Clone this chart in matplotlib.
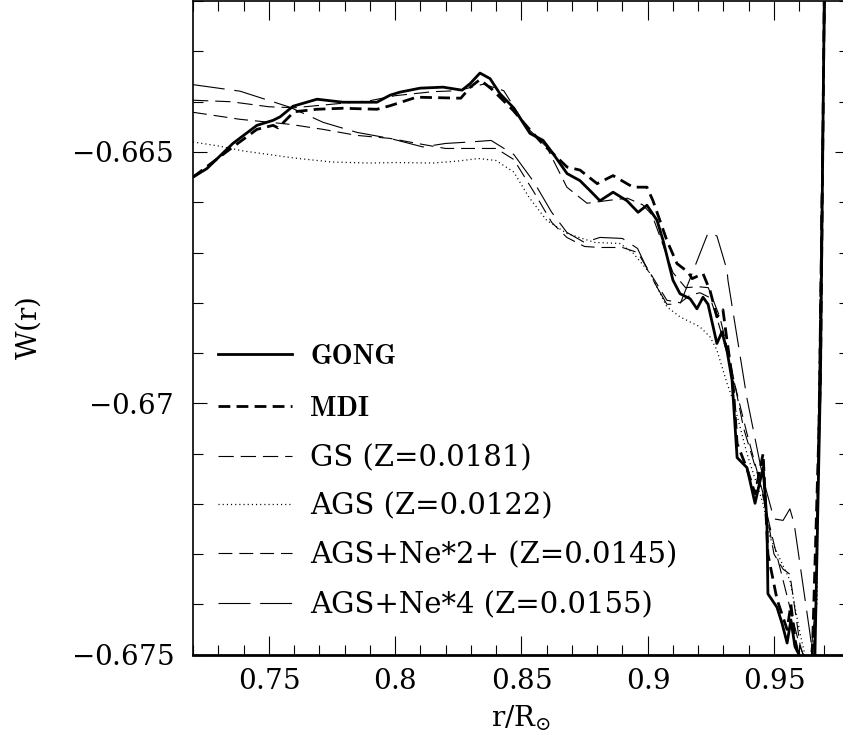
import numpy as np
import matplotlib
matplotlib.use('Agg')
import matplotlib.pyplot as plt
from matplotlib.lines import Line2D
from matplotlib.ticker import MultipleLocator, FuncFormatter

plt.rcParams['mathtext.fontset'] = 'dejavuserif'
plt.rcParams['font.family'] = 'DejaVu Serif'
plt.rcParams['lines.scale_dashes'] = False

# helioseismic inversions
gong_r = [0.720, 0.7255, 0.7358, 0.7453, 0.7517, 0.7545, 0.7596, 0.7691, 0.7794, 0.7928,
          0.7980, 0.8019, 0.8099, 0.8190, 0.8265, 0.8297, 0.8336, 0.8376, 0.8415, 0.8467,
          0.8534, 0.8586, 0.8625, 0.8681, 0.8732, 0.8772, 0.8811, 0.8863, 0.8918, 0.8962,
          0.8997, 0.9037, 0.9061, 0.9100, 0.9128, 0.9168, 0.9195, 0.9219, 0.9239, 0.9274,
          0.9294, 0.9314, 0.9334, 0.9354, 0.9393, 0.9425, 0.9445, 0.9457, 0.9472, 0.9476,
          0.9512, 0.9532, 0.9552, 0.9567, 0.9583, 0.9603, 0.9630, 0.9662, 0.9684, 0.9700]
gong_w = [-0.66550, -0.66533, -0.66483, -0.66447, -0.66437, -0.66430, -0.66409, -0.66395, -0.66401, -0.66401,
          -0.66387, -0.66381, -0.66373, -0.66371, -0.66377, -0.66364, -0.66343, -0.66354, -0.66384, -0.66411,
          -0.66463, -0.66477, -0.66503, -0.66543, -0.66557, -0.66577, -0.66597, -0.66580, -0.66597, -0.66620,
          -0.66606, -0.66636, -0.66676, -0.66755, -0.66782, -0.66792, -0.66812, -0.66789, -0.66803, -0.66881,
          -0.66858, -0.66895, -0.66954, -0.67108, -0.67128, -0.67199, -0.67154, -0.67128, -0.67233, -0.67379,
          -0.67406, -0.67438, -0.67477, -0.67431, -0.67484, -0.67504, -0.67560, -0.67504, -0.66950, -0.66150]

mdi_r = [0.720, 0.7358, 0.7453, 0.7517, 0.7537, 0.7600, 0.7691, 0.7794, 0.7928, 0.7980,
         0.8085, 0.8260, 0.8300, 0.8336, 0.8385, 0.8467, 0.8520, 0.8586, 0.8625, 0.8681,
         0.8732, 0.8800, 0.8863, 0.8942, 0.8997, 0.9021, 0.9076, 0.9116, 0.9160, 0.9176,
         0.9219, 0.9247, 0.9274, 0.9298, 0.9314, 0.9338, 0.9354, 0.9393, 0.9425, 0.9457,
         0.9476, 0.9512, 0.9552, 0.9567, 0.9583, 0.9610, 0.9650, 0.9684, 0.9700]
mdi_w = [-0.66550, -0.66490, -0.66455, -0.66447, -0.66452, -0.66420, -0.66415, -0.66413, -0.66415, -0.66408,
         -0.66391, -0.66393, -0.66370, -0.66356, -0.66376, -0.66417, -0.66448, -0.66485, -0.66503, -0.66530,
         -0.66536, -0.66563, -0.66547, -0.66570, -0.66570, -0.66597, -0.66676, -0.66722, -0.66739, -0.66752,
         -0.66742, -0.66776, -0.66828, -0.66814, -0.66875, -0.66961, -0.67080, -0.67130, -0.67180, -0.67100,
         -0.67300, -0.67390, -0.67450, -0.67400, -0.67470, -0.67530, -0.67530, -0.66950, -0.66150]

# solar models
gs_r = [0.720, 0.735, 0.750, 0.760, 0.775, 0.790, 0.800, 0.815, 0.825, 0.835,
        0.843, 0.8522, 0.860, 0.868, 0.876, 0.885, 0.892, 0.898, 0.9017, 0.905,
        0.910, 0.915, 0.920, 0.924, 0.9286, 0.932, 0.938, 0.944, 0.950, 0.956,
        0.960, 0.964, 0.9665, 0.9690, 0.9705]
gs_w = [-0.66397, -0.66400, -0.66410, -0.66412, -0.66405, -0.66398, -0.66388, -0.66380, -0.66378, -0.66365,
        -0.66378, -0.66451, -0.66490, -0.66570, -0.66602, -0.66596, -0.66592, -0.66605, -0.66625, -0.66670,
        -0.66740, -0.66770, -0.66768, -0.66770, -0.66829, -0.66900, -0.67050, -0.67150, -0.67280, -0.67400,
        -0.67480, -0.67530, -0.67400, -0.66500, -0.66150]

ags_r = [0.720, 0.730, 0.740, 0.750, 0.760, 0.775, 0.790, 0.800, 0.815, 0.825,
         0.833, 0.840, 0.847, 0.853, 0.860, 0.868, 0.879, 0.889, 0.8942, 0.9009,
         0.9076, 0.9128, 0.9207, 0.9247, 0.9274, 0.9314, 0.9338, 0.9393, 0.9457, 0.9484,
         0.9563, 0.9603, 0.9640, 0.9670, 0.9700]
ags_w = [-0.66480, -0.66488, -0.66498, -0.66505, -0.66512, -0.66520, -0.66522, -0.66521, -0.66522, -0.66518,
         -0.66513, -0.66517, -0.66540, -0.66590, -0.66636, -0.66662, -0.66680, -0.66682, -0.66701, -0.66741,
         -0.66808, -0.66828, -0.66848, -0.66868, -0.66894, -0.66960, -0.66994, -0.67100, -0.67200, -0.67267,
         -0.67352, -0.67457, -0.67540, -0.67400, -0.66150]

ne2_r = [0.720, 0.7386, 0.7584, 0.7715, 0.7849, 0.798, 0.811, 0.820, 0.830, 0.840,
         0.847, 0.855, 0.862, 0.868, 0.875, 0.8811, 0.890, 0.896, 0.9009, 0.9076,
         0.9128, 0.9168, 0.9207, 0.9247, 0.9274, 0.9314, 0.9393, 0.9457, 0.950, 0.9536,
         0.9563, 0.9603, 0.9640, 0.9665, 0.9690, 0.9705]
ne2_w = [-0.66421, -0.66435, -0.66445, -0.66455, -0.66467, -0.66473, -0.66485, -0.66493, -0.66493, -0.66493,
         -0.66515, -0.66580, -0.66640, -0.66670, -0.66688, -0.66690, -0.66690, -0.66700, -0.66740, -0.66795,
         -0.66800, -0.66785, -0.66780, -0.66790, -0.66830, -0.66900, -0.67060, -0.67180, -0.67300, -0.67330,
         -0.67340, -0.67480, -0.67540, -0.67450, -0.66500, -0.66150]

ne4_r = [0.720, 0.7386, 0.7584, 0.7715, 0.7849, 0.798, 0.811, 0.820, 0.830, 0.838,
         0.847, 0.855, 0.862, 0.868, 0.875, 0.8811, 0.890, 0.896, 0.8999, 0.9036,
         0.9076, 0.9128, 0.9239, 0.9274, 0.9314, 0.9318, 0.9393, 0.9457, 0.950, 0.9536,
         0.9563, 0.958, 0.9643, 0.9660, 0.9680, 0.9700]
ne4_w = [-0.66366, -0.66379, -0.66411, -0.66441, -0.66461, -0.66473, -0.66490, -0.66483, -0.66480, -0.66477,
         -0.66505, -0.66560, -0.66620, -0.66660, -0.66680, -0.66670, -0.66672, -0.66692, -0.66734, -0.66768,
         -0.66803, -0.66803, -0.66661, -0.66667, -0.66735, -0.66756, -0.66990, -0.67150, -0.67230, -0.67233,
         -0.67210, -0.67240, -0.67460, -0.67530, -0.66950, -0.66150]

labels = ['GONG', 'MDI', 'GS (Z=0.0181)', 'AGS (Z=0.0122)',
          'AGS+Ne*2+ (Z=0.0145)', 'AGS+Ne*4 (Z=0.0155)']

series = [(gong_r, gong_w), (mdi_r, mdi_w), (gs_r, gs_w), (ags_r, ags_w),
          (ne2_r, ne2_w), (ne4_r, ne4_w)]
styles = [dict(lw=2.0, ls='-'),
          dict(lw=2.0, dashes=(8.5, 4.5)),
          dict(lw=0.8, dashes=(11, 5)),
          dict(lw=0.9, dashes=(0.8, 2.2)),
          dict(lw=0.8, dashes=(10, 5)),
          dict(lw=0.8, dashes=(23, 7))]

W, H = 843, 748
fig = plt.figure(figsize=(W / 100, H / 100), dpi=100)
ax = fig.add_axes([193 / W, (H - 654.6) / H, (849 - 193) / W, 653.4 / H])

for (r, w), st in zip(series, styles):
    ax.plot(r, w, color='black', solid_capstyle='butt', dash_capstyle='butt', **st)

ax.set_xlim(0.72, 0.9797)
ax.set_ylim(-0.675, -0.662)

ax.xaxis.set_major_locator(MultipleLocator(0.05))
ax.xaxis.set_minor_locator(MultipleLocator(0.01))
ax.yaxis.set_major_locator(MultipleLocator(0.005))
ax.yaxis.set_minor_locator(MultipleLocator(0.001))
ax.xaxis.set_major_formatter(FuncFormatter(lambda v, p: r'$%g$' % round(v, 3)))
ax.yaxis.set_major_formatter(FuncFormatter(lambda v, p: r'$%g$' % round(v, 3)))

ax.tick_params(which='both', direction='in', top=True, right=True, width=0.8,
               labelsize=20)
ax.tick_params(axis='x', which='major', length=14, pad=10)
ax.tick_params(axis='x', which='minor', length=7)
ax.tick_params(axis='y', which='major', length=10, pad=14)
ax.tick_params(axis='y', which='minor', length=7)
for s in ax.spines.values():
    s.set_linewidth(1.2)
ax.spines['bottom'].set_linewidth(2.0)

ax.set_xlabel(r'$\mathrm{r/R}_{\odot}$', fontsize=20, labelpad=6)
ax.set_ylabel(r'$\mathrm{W(r)}$', fontsize=20, labelpad=20)

# legend, drawn by hand like the original
rows = [354, 406, 456, 504, 553, 603]
for lab, st, yp in zip(labels, styles, rows):
    yf = 1 - yp / H
    fig.add_artist(Line2D([218 / W, 292 / W], [yf, yf], transform=fig.transFigure,
                          color='black', dash_capstyle='butt', **st))
    if lab in ('GONG', 'MDI'):
        fig.text(310 / W, 1 - (yp + 10) / H, lab, family='cmb10', fontsize=20, va='baseline')
    else:
        fig.text(310 / W, 1 - (yp + 10.5) / H, lab, fontsize=21, va='baseline')

fig.savefig('out.png', dpi=100)
